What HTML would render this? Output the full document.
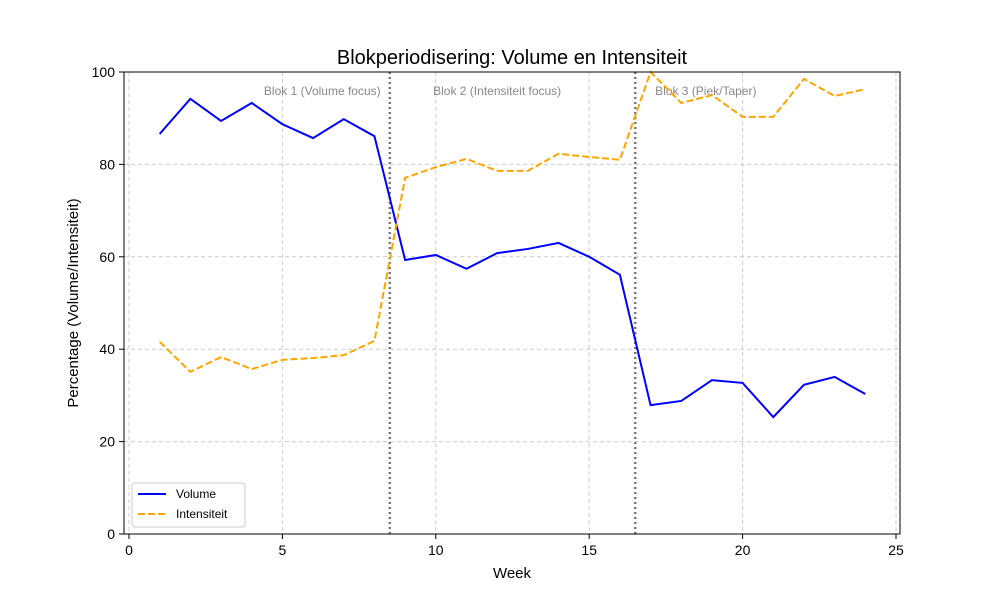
<!DOCTYPE html>
<html><head><meta charset="utf-8"><style>
body{margin:0;background:#fff;font-family:"Liberation Sans",sans-serif}
svg text{font-family:"Liberation Sans",sans-serif}
</style></head><body>
<svg id="chart" width="1000" height="600" xmlns="http://www.w3.org/2000/svg">
<rect width="1000" height="600" fill="#fff"/>
<g id="grid"></g>
<g id="marks"></g>
<rect x="124" y="72" width="776" height="462" fill="none" stroke="#000" stroke-width="1"/>
<g id="axes"></g>
<text x="512" y="64" text-anchor="middle" font-size="20">Blokperiodisering: Volume en Intensiteit</text>
<text x="512" y="578" text-anchor="middle" font-size="15">Week</text>
<text x="78" y="303" text-anchor="middle" font-size="15" transform="rotate(-90 78 303)">Percentage (Volume/Intensiteit)</text>
<g>
<rect x="132" y="483" width="113" height="44" fill="#fff" stroke="#ccc" rx="3"/>
<line x1="138" y1="494" x2="166" y2="494" stroke="blue" stroke-width="2"/>
<text x="176" y="498" font-size="12">Volume</text>
<line x1="138" y1="514" x2="166" y2="514" stroke="orange" stroke-width="2" stroke-dasharray="7,3"/>
<text x="176" y="518" font-size="12">Intensiteit</text>
</g>
</svg>
<script>
const weeks=[1,2,3,4,5,6,7,8,9,10,11,12,13,14,15,16,17,18,19,20,21,22,23,24];
const volume=[86.6,94.2,89.4,93.3,88.7,85.7,89.8,86.1,59.3,60.4,57.4,60.8,61.7,63.0,60.0,56.1,27.9,28.8,33.3,32.7,25.3,32.3,34.0,30.3];
const intensity=[41.6,35.1,38.3,35.7,37.7,38.1,38.7,41.8,77.1,79.4,81.2,78.6,78.6,82.3,81.6,81.0,100,93.3,95.0,90.3,90.3,98.5,94.8,96.3];
const xTicks=[0,5,10,15,20,25];
const yTicks=[0,20,40,60,80,100];
const blockLines=[8.5,16.5];
const blockLabels=["Blok 1 (Volume focus)","Blok 2 (Intensiteit focus)","Blok 3 (Piek/Taper)"];
const blockLabelX=[6.3,12.0,18.8];
const NS="http://www.w3.org/2000/svg";
const X=v=>129+v*30.68, Y=v=>534-v*4.62;
function mk(t,a,p){const e=document.createElementNS(NS,t);for(const k in a)e.setAttribute(k,a[k]);p.appendChild(e);return e;}
const grid=document.getElementById('grid'),marks=document.getElementById('marks'),axes=document.getElementById('axes');
xTicks.forEach(t=>{
 const g=mk('line',{x1:X(t),x2:X(t),y1:72,y2:534,stroke:'#ccc','stroke-dasharray':'4,3'},grid);
 
 
 const k=mk('line',{x1:X(t),x2:X(t),y1:534,y2:539,stroke:'#000'},axes);
 
 
 const l=mk('text',{x:X(t),y:555,'text-anchor':'middle','font-size':14},axes);l.textContent=t;
 
 
});
yTicks.forEach(t=>{
 const g=mk('line',{x1:124,x2:900,y1:Y(t),y2:Y(t),stroke:'#ccc','stroke-dasharray':'4,3'},grid);
 
 
 const k=mk('line',{x1:119,x2:124,y1:Y(t),y2:Y(t),stroke:'#000'},axes);
 
 
 const l=mk('text',{x:115,y:Y(t)+5,'text-anchor':'end','font-size':14},axes);l.textContent=t;
 
 
});
blockLines.forEach(b=>{
 const e=mk('line',{x1:X(b),x2:X(b),y1:72,y2:534,stroke:'#777','stroke-width':2.5,'stroke-dasharray':'2,3'},marks);
 
 
});
blockLabels.forEach((s,i)=>{
 const e=mk('text',{x:X(blockLabelX[i]),y:95,'text-anchor':'middle','font-size':12,fill:'#888'},marks);e.textContent=s;
 
 
});
const p1=mk('polyline',{points:weeks.map((w,i)=>X(w)+','+Y(volume[i])).join(' '),fill:'none',stroke:'blue','stroke-width':2},marks);


const p2=mk('polyline',{points:weeks.map((w,i)=>X(w)+','+Y(intensity[i])).join(' '),fill:'none',stroke:'orange','stroke-width':2,'stroke-dasharray':'7,3'},marks);


</script>
</body></html>
